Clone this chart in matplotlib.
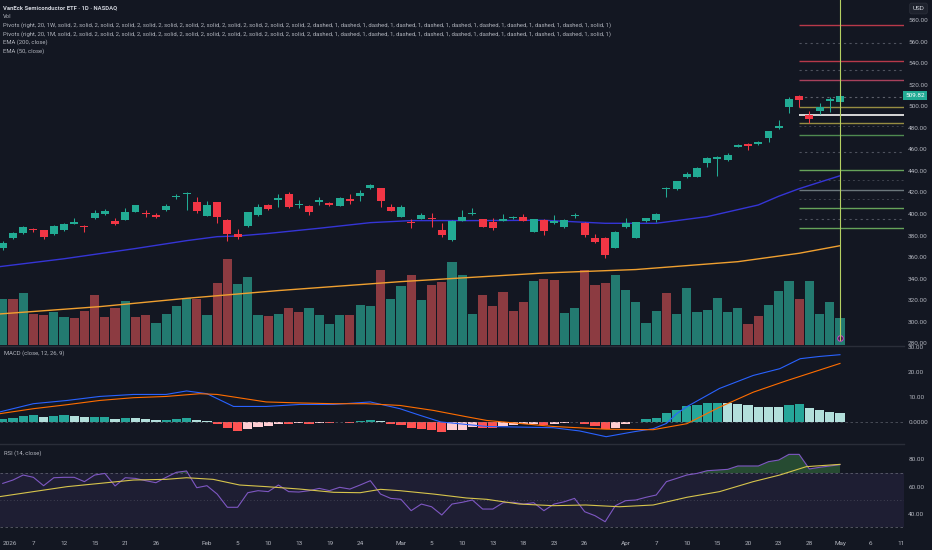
import matplotlib
matplotlib.use("Agg")
import matplotlib.pyplot as plt
import numpy as np
from matplotlib.transforms import blended_transform_factory

plt.rcParams['font.family'] = ['Roboto', 'DejaVu Sans']

# ---------------- data ----------------
tick_idx = [0, 3, 6, 9, 12, 15, 20, 23, 26, 29, 32, 35, 39, 42, 45, 48, 51, 54, 57,
            61, 64, 67, 70, 73, 76, 79, 82, 85, 88]
tick_lbl = ['2026', '7', '12', '15', '21', '26', 'Feb', '5', '10', '13', '19', '24', 'Mar',
            '5', '10', '13', '18', '23', '26', 'Apr', '7', '10', '15', '20', '23', '28',
            'May', '6', '11']

opens = [368.2, 377.5, 382.1, 385.6, 384.9, 381.5, 385.2, 391.1, 389.2, 396.0,
         400.0, 393.6, 394.5, 402.2, 401.3, 399.1, 403.7, 415.5, 418.4, 411.2,
         398.5, 410.9, 394.5, 381.2, 388.9, 398.8, 408.1, 413.0, 418.6, 408.1,
         407.5, 411.0, 410.6, 407.5, 414.0, 417.0, 424.5, 423.8, 406.8, 397.3,
         392.5, 395.7, 396.3, 385.2, 375.6, 393.9, 399.7, 395.1, 392.3, 393.9,
         396.2, 397.0, 383.6, 394.5, 391.4, 387.7, 398.2, 392.0, 377.8, 377.8,
         368.8, 388.0, 377.8, 393.8, 394.2, 423.3, 422.9, 434.0, 434.4, 447.7,
         450.7, 450.1, 462.5, 465.0, 465.0, 470.8, 479.8, 499.0, 509.2, 491.6,
         495.9, 504.5, 504.3]
highs = [375.3, 383.7, 388.9, 386.8, 385.5, 390.1, 392.0, 396.0, 389.8, 403.7,
         404.7, 396.0, 405.3, 408.8, 403.7, 401.3, 409.3, 418.6, 420.5, 416.1,
         412.4, 411.5, 395.0, 386.4, 402.0, 409.3, 409.0, 418.6, 420.5, 413.0,
         408.5, 416.1, 411.5, 415.8, 418.6, 422.3, 427.9, 424.3, 409.3, 408.7,
         395.1, 401.3, 401.3, 391.4, 394.5, 403.7, 405.3, 395.7, 396.0, 400.0,
         398.5, 400.0, 395.7, 395.0, 399.1, 395.5, 401.3, 393.0, 381.5, 378.5,
         383.9, 396.3, 392.8, 396.5, 401.0, 425.4, 430.8, 439.3, 443.5, 452.5,
         454.0, 457.0, 464.9, 465.6, 467.5, 477.2, 487.2, 508.3, 510.2, 495.9,
         502.7, 508.3, 510.5]
lows = [367.0, 376.5, 381.5, 383.3, 376.5, 380.8, 384.5, 390.5, 383.6, 395.5,
        399.5, 389.8, 394.0, 401.8, 397.6, 396.6, 403.2, 413.7, 403.7, 401.3,
        398.0, 391.4, 375.0, 376.5, 388.3, 398.3, 403.5, 406.8, 405.3, 405.3,
        399.1, 408.4, 407.0, 407.0, 409.3, 412.4, 423.5, 406.2, 402.5, 396.8,
        386.8, 395.2, 387.7, 379.0, 375.0, 393.5, 399.2, 388.0, 385.2, 393.4,
        395.5, 393.4, 383.0, 380.6, 390.9, 387.2, 396.5, 379.0, 373.0, 358.9,
        368.3, 387.5, 377.3, 392.5, 393.0, 415.5, 422.4, 433.5, 434.0, 443.9,
        435.3, 449.6, 461.8, 459.4, 464.5, 467.1, 479.3, 493.4, 499.6, 484.8,
        493.0, 494.7, 502.5]
closes = [373.5, 382.4, 387.7, 385.0, 379.0, 388.9, 390.8, 393.0, 387.7, 401.3,
          403.1, 390.5, 401.9, 408.4, 400.0, 397.6, 407.5, 416.7, 418.8, 403.1,
          408.1, 397.6, 381.8, 378.4, 401.6, 406.5, 404.4, 414.6, 406.2, 409.0,
          402.2, 413.0, 408.1, 415.2, 412.4, 419.8, 426.6, 412.1, 403.1, 406.2,
          392.0, 399.1, 395.1, 380.3, 393.9, 397.6, 401.3, 388.3, 387.4, 395.1,
          397.0, 393.9, 395.1, 384.6, 393.5, 394.5, 399.4, 380.6, 374.1, 362.3,
          383.3, 392.0, 392.3, 396.0, 399.7, 424.2, 430.3, 437.1, 443.0, 452.0,
          452.9, 454.8, 463.7, 463.4, 466.8, 476.7, 481.9, 506.7, 506.2, 487.9,
          499.0, 506.7, 509.82]

volume = [4.57, 4.57, 5.17, 3.13, 2.97, 3.33, 2.80, 2.67, 3.40, 5.00,
          2.80, 3.67, 4.40, 2.80, 3.00, 2.20, 3.13, 3.90, 4.73, 4.57,
          3.00, 6.20, 8.57, 6.07, 6.80, 3.00, 2.90, 3.13, 3.73, 3.33,
          3.73, 3.00, 2.07, 2.97, 3.00, 4.00, 3.90, 7.53, 4.60, 5.87,
          7.00, 4.47, 6.00, 6.30, 8.33, 6.97, 3.07, 5.00, 3.90, 5.27,
          3.40, 4.30, 6.43, 6.57, 6.47, 3.17, 3.73, 7.50, 6.00, 6.23,
          7.00, 5.50, 4.33, 2.17, 3.40, 5.20, 3.07, 5.67, 3.30, 3.53,
          4.67, 3.30, 3.67, 2.07, 2.87, 4.00, 5.40, 6.40, 4.60, 6.40,
          3.07, 4.27, 2.73]
volume_up = [1, 0, 1, 0, 0, 1, 1, 0, 0, 0,
             0, 0, 1, 0, 0, 1, 1, 1, 1, 0,
             1, 0, 0, 1, 1, 1, 0, 1, 0, 0,
             1, 1, 1, 1, 0, 1, 1, 0, 1, 1,
             0, 1, 0, 0, 1, 1, 1, 0, 0, 0,
             0, 0, 1, 0, 0, 1, 1, 0, 0, 0,
             1, 1, 1, 1, 1, 0, 1, 1, 1, 1,
             1, 1, 1, 0, 0, 1, 1, 1, 0, 1,
             1, 1, 1]

ema50_idx = [-0.3, 6, 13, 18, 21, 23, 26, 31, 36, 40, 46, 53, 59, 64, 69, 74, 76, 78, 82]
ema50_val = [351.2, 358.5, 368.0, 375.3, 379.0, 379.6, 382.0, 386.8, 392.0, 393.9,
             393.9, 394.2, 391.4, 391.4, 397.6, 408.4, 416.5, 423.5, 435.5]
ema200_idx = [-0.3, 9.5, 18, 27, 39, 53, 62, 72, 78, 82]
ema200_val = [307.3, 314.1, 321.8, 329.0, 337.3, 345.3, 348.5, 355.8, 363.6, 370.6]

pivot_start = 78
pivot_levels = [575.6, 559.0, 542.0, 533.6, 524.3, 508.3, 499.0, 491.6, 484.2, 481.6,
                473.3, 457.3, 440.6, 431.6, 422.3, 414.0, 405.3, 395.0, 386.8]

macd_hist = [0.9, 1.5, 2.1, 2.5, 1.9, 2.3, 2.5, 2.1, 1.7, 1.9,
             2.0, 1.1, 1.5, 1.3, 0.9, 0.5, 0.8, 1.2, 1.6, 0.5,
             0.3, -1.1, -2.4, -3.7, -2.9, -2.1, -1.6, -0.8, -0.9, -0.7,
             -0.8, -0.5, -0.6, -0.3, -0.4, 0.3, 0.8, 0.1, -0.8, -1.3,
             -2.5, -2.9, -3.2, -4.1, -3.5, -3.2, -2.1, -2.4, -2.5, -1.9,
             -1.5, -1.1, -0.9, -1.3, -1.1, -0.5, -0.1, -0.8, -1.9, -3.1,
             -2.4, -0.9, -0.1, 0.9, 1.6, 3.5, 4.8, 6.1, 6.8, 7.5,
             7.6, 7.4, 7.1, 6.7, 5.9, 5.8, 5.7, 6.8, 6.9, 5.5,
             4.5, 4.0, 3.5]
macd_idx = [-0.3, 3, 6.3, 9.5, 12.8, 16, 18, 20, 22.6, 25.8, 29.1, 32.4, 36, 38.9, 40.9,
            42.9, 47.4, 53.9, 56.5, 59.1, 61.7, 63.7, 65, 66, 67, 70.2, 73.5, 76.1, 78.1, 80, 82]
macd_val = [3.9, 7.2, 8.5, 10.1, 10.9, 10.9, 12.3, 11.2, 6.1, 6.1, 6.9, 6.9, 7.9, 5.2, 2.5,
            -0.1, -1.9, -2.4, -3.7, -6.0, -4.1, -2.8, -0.7, 3.2, 6.0, 13.3, 18.5, 21.2, 25.2, 26.1, 26.8]
signal_idx = [-0.3, 3, 6.3, 9.5, 12.8, 16, 19.3, 21, 22.6, 25.8, 29.1, 32.4, 35.6, 38.9,
              42.2, 45.4, 47.4, 53.9, 59.1, 63.7, 67, 70.2, 73.5, 76.7, 82]
signal_val = [3.2, 5.2, 6.8, 8.5, 9.6, 10.1, 11.2, 10.9, 9.9, 7.9, 7.5, 7.2, 7.2, 6.5,
              4.5, 2.0, 0.5, -1.9, -3.0, -3.2, -0.8, 5.8, 11.8, 16.3, 23.3]

rsi = [62.3, 64.8, 68.5, 66.8, 60.6, 66.5, 66.8, 66.8, 63.6, 68.5,
       69.7, 60.4, 66.5, 66.0, 64.3, 62.8, 66.8, 70.5, 71.5, 59.1,
       60.6, 54.4, 44.6, 44.6, 55.4, 56.9, 56.2, 61.1, 56.2, 55.9,
       56.9, 58.6, 56.9, 59.4, 58.1, 61.1, 64.3, 54.4, 51.2, 50.5,
       42.1, 47.0, 45.0, 38.9, 47.0, 48.3, 50.0, 43.3, 43.3, 48.0,
       48.3, 47.0, 48.0, 42.1, 47.0, 48.7, 51.2, 41.3, 38.4, 33.9,
       45.8, 49.5, 50.0, 52.0, 53.7, 63.6, 66.0, 68.5, 69.7, 71.7,
       72.2, 72.7, 75.2, 75.2, 75.2, 78.4, 79.6, 83.8, 83.8, 73.0,
       74.2, 75.2, 76.2]
rsi_ma_idx = [-0.3, 3, 6.3, 9.5, 12.8, 16, 18, 20.6, 23.2, 25.8, 29.1, 32.4, 35, 37, 38.9,
              42.2, 45.4, 47.4, 50.6, 53.9, 57.1, 60.4, 63.7, 67, 70.2, 73.5, 76.1, 78.7, 82]
rsi_ma_val = [52.5, 56.2, 59.9, 62.3, 64.8, 65.3, 66.5, 65.3, 61.1, 59.9, 58.1, 55.7, 55.4,
              57.9, 56.9, 54.4, 51.5, 50.5, 47.0, 45.8, 46.3, 45.0, 46.3, 52.0, 56.2, 63.6,
              68.5, 74.7, 76.4]

price_ticks = [280, 300, 320, 340, 360, 380, 400, 420, 440, 460, 480, 500, 520, 540, 560, 580]
macd_ticks = [0, 10, 20, 30]
rsi_ticks = [40, 60, 80]
last_price = 509.82

# ---------------- style ----------------
W, H = 932, 550
BG = '#131722'
TXT = '#b2b5be'
UP, DN = '#22ab94', '#f23645'
VUP, VDN = '#237a70', '#8c3b41'
SEP = '#2a2e39'
PLOT_R = 904
XL = (-0.27, 88.27)

pivot_styles = [
    ('#b8394a', '-', 1.0), ('#4e525e', (0, (2, 3)), 0.8), ('#b8394a', '-', 1.0),
    ('#4e525e', (0, (2, 3)), 0.8), ('#a8415c', '-', 1.0), ('#5d606b', (0, (2, 3)), 0.8),
    ('#978d42', '-', 1.0), ('#e6e6e6', '-', 1.3), ('#978d42', '-', 1.0),
    ('#3e424d', (0, (2, 3)), 0.7), ('#4f8a50', '-', 1.0), ('#4e525e', (0, (2, 3)), 0.8),
    ('#66a35a', '-', 1.0), ('#3e424d', (0, (2, 3)), 0.7), ('#6b777c', '-', 1.0),
    ('#3e424d', (0, (2, 3)), 0.7), ('#66a35a', '-', 1.0), ('#4e525e', (0, (2, 3)), 0.8),
    ('#66a35a', '-', 1.0)]

fig = plt.figure(figsize=(W / 100, H / 100), dpi=100, facecolor=BG)


def rect(top, bottom):
    return [0, 1 - bottom / H, PLOT_R / W, (bottom - top) / H]


vax = fig.add_axes(rect(0, 345))
pax = fig.add_axes(rect(0, 345))
max_ = fig.add_axes(rect(346, 443))
rax = fig.add_axes(rect(444, 531))

vax.set_facecolor(BG)
pax.patch.set_alpha(0)
for a in (max_, rax):
    a.set_facecolor(BG)
for a in (vax, pax, max_, rax):
    a.set_xlim(*XL)
    for s in a.spines.values():
        s.set_visible(False)
    a.tick_params(axis='both', length=0, labelsize=4.6, labelcolor=TXT)
    a.tick_params(axis='x', labelbottom=False)
    a.yaxis.tick_right()
    a.tick_params(axis='y', pad=3)
for a in (max_, rax):
    a.spines['top'].set_visible(True)
    a.spines['top'].set_color(SEP)
    a.spines['top'].set_linewidth(1.0)
vax.set_yticks([])

x = np.arange(len(opens))
o = np.array(opens); c = np.array(closes); hi = np.array(highs); lo = np.array(lows)

# volume
vax.set_ylim(0, 34.5)
vax.bar(x, volume, width=0.9, color=[VUP if u else VDN for u in volume_up], linewidth=0)
vax.scatter([x[-1]], [0.75], s=16, marker='o', facecolor='#3a1d48', edgecolor='#d046c8',
            linewidth=0.7, zorder=5)

# price
pax.set_ylim(278.5, 598.55)
ccol = [UP if cc >= oo else DN for oo, cc in zip(o, c)]
pax.vlines(x, lo, hi, colors=ccol, linewidth=0.75, zorder=3)
pax.bar(x, np.maximum(np.abs(c - o), 0.9), bottom=np.minimum(o, c), width=0.78,
        color=ccol, linewidth=0, zorder=4)
pax.plot(ema200_idx, ema200_val, color='#f0a030', lw=1.0, zorder=2)
pax.plot(ema50_idx, ema50_val, color='#3535d6', lw=1.0, zorder=2)
for lvl, (col, ls, lw) in zip(pivot_levels, pivot_styles):
    pax.hlines(lvl, pivot_start, XL[1], colors=col, linestyles=[ls], linewidth=lw, zorder=1.5)
pax.axvline(x[-1], ymin=0.014, ymax=1, color='#b5d062', lw=0.8, zorder=5)
pax.set_yticks(price_ticks)
pax.set_yticklabels([f'{v:.2f}' for v in price_ticks])
bt = blended_transform_factory(pax.transAxes, pax.transData)
pax.text(1 + 1.5 / PLOT_R, last_price, f'{last_price:.2f}', transform=bt, ha='left',
         va='center', fontsize=4.6, color='white', clip_on=False,
         bbox=dict(boxstyle='square,pad=0.32', fc=UP, ec='none'))

# MACD
max_.set_ylim(-8.52, 30.28)
hcol = []
for i, hv in enumerate(macd_hist):
    prev = macd_hist[i - 1] if i > 0 else hv - 1
    if hv >= 0:
        hcol.append('#26a69a' if hv > prev else '#b2dfdb')
    else:
        hcol.append('#ffcdd2' if hv > prev else '#ff5252')
max_.bar(x, macd_hist, width=0.9, color=hcol, linewidth=0)
max_.axhline(0, color='#787b86', lw=0.6, ls=(0, (3, 3)), alpha=0.6)
max_.plot(macd_idx, macd_val, color='#2962ff', lw=0.8)
max_.plot(signal_idx, signal_val, color='#ff6d00', lw=0.8)
max_.set_yticks(macd_ticks)
max_.set_yticklabels(['0.0000'] + [f'{v:.2f}' for v in macd_ticks[1:]])

# RSI
rax.set_ylim(27.04, 91.48)
rax.axhspan(30, 70, color='#7e57c2', alpha=0.11, lw=0)
for lv, ls, al in ((70, (0, (3, 3)), 0.7), (50, (0, (1, 3)), 0.5), (30, (0, (3, 3)), 0.7)):
    rax.axhline(lv, color='#787b86', lw=0.6, ls=ls, alpha=al)
r = np.array(rsi)
rax.fill_between(x, r, 70, where=r > 70, interpolate=True, color='#4caf50', alpha=0.35, lw=0)
rax.plot(x, r, color='#7e57c2', lw=0.8)
rax.plot(rsi_ma_idx, rsi_ma_val, color='#d6c44c', lw=0.8)
rax.set_yticks(rsi_ticks)
rax.set_yticklabels([f'{v:.2f}' for v in rsi_ticks])
rax.set_xticks(tick_idx)
rax.set_xticklabels(tick_lbl)
rax.tick_params(axis='x', labelbottom=True, pad=7, labelsize=4.6)
# keep the first (year) label inside the figure
rax.get_xticklabels()[0].set_horizontalalignment('left')

# ---------------- texts ----------------
renderer = fig.canvas.get_renderer()
piv1 = ("Pivots (right, 20, 1W, solid, 2, solid, 2, solid, 2, solid, 2, solid, 2, solid, 2, "
        "solid, 2, solid, 2, solid, 2, solid, 2, solid, 2, solid, 2, dashed, 1, dashed, 1, "
        "dashed, 1, dashed, 1, dashed, 1, dashed, 1, dashed, 1, dashed, 1, dashed, 1, dashed, 1, "
        "solid, 1)")
piv2 = piv1.replace('1W', '1M')
probe = fig.text(3 / W, 1 - 25 / H, piv1, fontsize=4, ha='left', va='center', color=TXT)
fs = 4 * 605 / probe.get_window_extent(renderer).width
probe.set_fontsize(fs)


def ftxt(px, py, s, color=TXT, **kw):
    return fig.text(px / W, 1 - py / H, s, fontsize=fs, ha='left', va='center', color=color, **kw)


ftxt(3, 8.3, 'VanEck Semiconductor ETF · 1D · NASDAQ', color='#d1d4dc', fontweight='bold')
ftxt(3, 16.5, 'Vol')
ftxt(3, 33.7, piv2)
ftxt(3, 42.5, 'EMA (200, close)')
ftxt(3, 51.3, 'EMA (50, close)')
ftxt(4, 353, 'MACD (close, 12, 26, 9)')
ftxt(4, 453, 'RSI (14, close)')

fig.text(918.5 / W, 1 - 8.5 / H, 'USD', ha='center', va='center', fontsize=4.6,
         color='#d1d4dc', bbox=dict(boxstyle='round,pad=0.45,rounding_size=0.3',
                                    fc='#1e222d', ec='#2a2e39', lw=0.6))

fig.savefig('out.png', dpi=100, facecolor=BG)
